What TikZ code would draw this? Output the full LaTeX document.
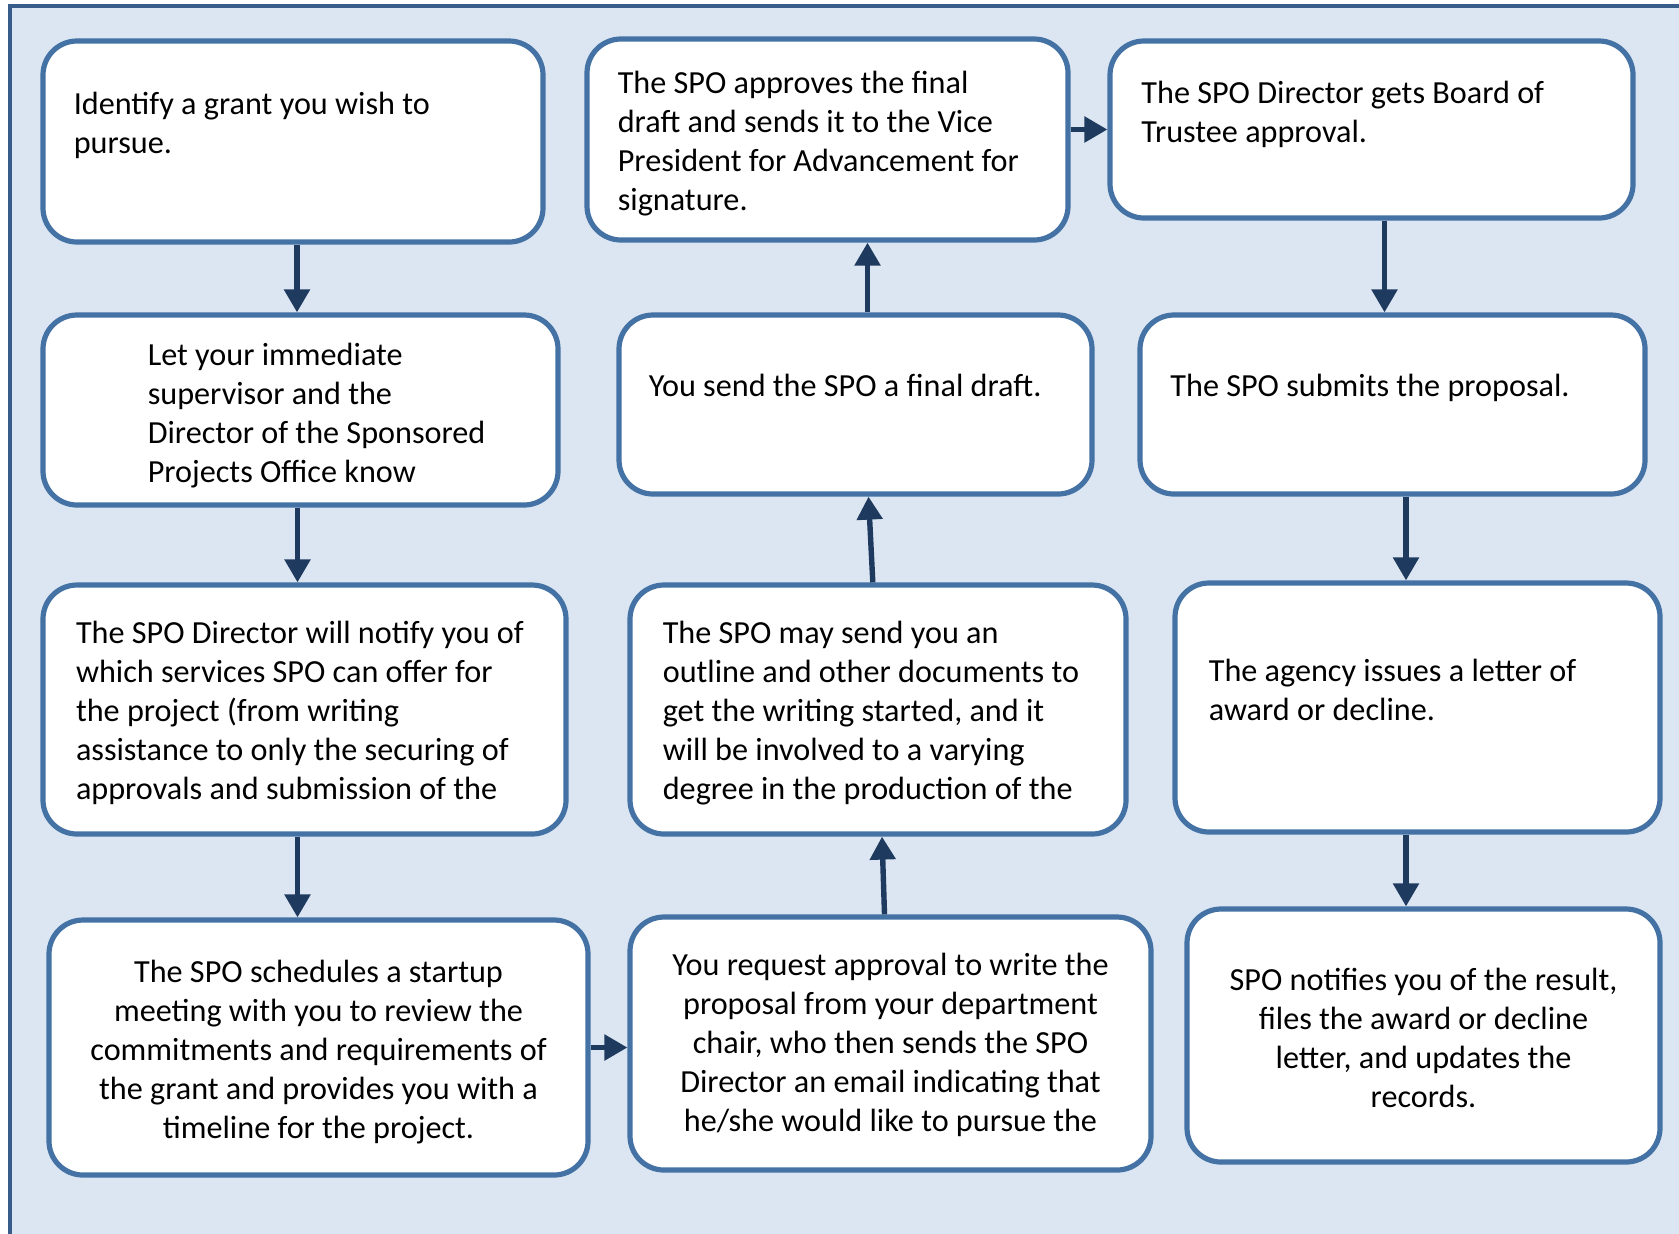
\documentclass[tikz,border=0pt]{standalone}
\usepackage{fontspec}
\setmainfont{Carlito}
\usetikzlibrary{arrows.meta}
\definecolor{panelfill}{HTML}{DCE6F2}
\definecolor{panelline}{HTML}{385D8A}
\definecolor{boxline}{HTML}{4472A4}
\definecolor{arrowcol}{HTML}{1F3A5F}

\begin{document}
\begin{tikzpicture}[x=1pt, y=-1pt,
        stepbox/.style={draw=boxline, line width=2.6pt, fill=white, rounded corners=17pt, inner sep=0pt},
        steptext/.style={inner sep=0pt, align=left, anchor=base west, yshift=-1.6pt,
                         font=\fontsize{16.1}{19.5}\selectfont},
        midtext/.style={steptext, align=center, anchor=base},
        flow/.style={draw=arrowcol, line width=2.7pt, -{Triangle[length=11.5pt, width=12.5pt]}}]
    \clip (0,0) rectangle (839.5,616.5);
    \fill[white] (0,0) rectangle (839.5,616.5);
    \draw[panelline, fill=panelfill, line width=2pt] (5,3) rectangle (860,640);

    \node[stepbox, minimum width=250pt, minimum height=100.5pt] (grant) at (146.5,70.75) {};
    \node[stepbox, minimum width=257.5pt, minimum height=95pt] (notify) at (150.25,205) {};
    \node[stepbox, minimum width=261.5pt, minimum height=124.5pt] (services) at (152.25,354.75) {};
    \node[stepbox, minimum width=269.5pt, minimum height=127.5pt] (startup) at (159.25,523.75) {};
    \node[stepbox, minimum width=240.5pt, minimum height=100.5pt] (approve) at (413.75,69.75) {};
    \node[stepbox, minimum width=236.5pt, minimum height=89.5pt] (draft) at (427.75,202.25) {};
    \node[stepbox, minimum width=248pt, minimum height=124.5pt] (outline) at (439,354.75) {};
    \node[stepbox, minimum width=260.5pt, minimum height=126.5pt] (request) at (445.25,521.75) {};
    \node[stepbox, minimum width=261.5pt, minimum height=88.5pt] (board) at (685.75,64.75) {};
    \node[stepbox, minimum width=252.5pt, minimum height=89.5pt] (submit) at (696.25,202.25) {};
    \node[stepbox, minimum width=242.5pt, minimum height=124.5pt] (letter) at (708.75,353.75) {};
    \node[stepbox, minimum width=236.5pt, minimum height=126.5pt] (result) at (711.75,517.75) {};

    \node[steptext] (tgrant) at ([shift={(16.5pt,-55.75pt)}]grant.north west)
        {Identify a grant you wish to\\pursue.};
    \node[steptext] (tnotify) at ([shift={(53.5pt,-83.6pt)}]notify.north west)
        {Let your immediate\\supervisor and the\\Director of the Sponsored\\Projects Office know};
    \node[steptext] (tservices) at ([shift={(17.6pt,-106.7pt)}]services.north west)
        {The SPO Director will notify you of\\which services SPO can offer for\\the project (from writing\\assistance to only the securing of\\approvals and submission of the};
    \node[midtext] (tstartup) at ([shift={(0pt,-109pt)}]startup.north)
        {The SPO schedules a startup\\meeting with you to review the\\commitments and requirements of\\the grant and provides you with a\\timeline for the project.};
    \node[steptext] (tapprove) at ([shift={(16.5pt,-85.6pt)}]approve.north west)
        {The SPO approves the final\\draft and sends it to the Vice\\President for Advancement for\\signature.};
    \node[steptext] (tdraft) at ([shift={(16pt,-40.6pt)}]draft.north west)
        {You send the SPO a final draft.};
    \node[steptext] (toutline) at ([shift={(17.5pt,-106.7pt)}]outline.north west)
        {The SPO may send you an\\outline and other documents to\\get the writing started, and it\\will be involved to a varying\\degree in the production of the};
    \node[midtext] (trequest) at ([shift={(0pt,-106.7pt)}]request.north)
        {You request approval to write the\\proposal from your department\\chair, who then sends the SPO\\Director an email indicating that\\he/she would like to pursue the};
    \node[steptext] (tboard) at ([shift={(16.8pt,-50.4pt)}]board.north west)
        {The SPO Director gets Board of\\Trustee approval.};
    \node[steptext] (tsubmit) at ([shift={(16.3pt,-40.6pt)}]submit.north west)
        {The SPO submits the proposal.};
    \node[steptext] (tletter) at ([shift={(18pt,-68.5pt)}]letter.north west)
        {The agency issues a letter of\\award or decline.};
    \node[midtext] (tresult) at ([shift={(0pt,-98.7pt)}]result.north)
        {SPO notifies you of the result,\\files the award or decline\\letter, and updates the\\records.};

    \draw[flow] ([xshift=2pt]grant.south) -- ([xshift=2pt]grant.south |- notify.north);
    \draw[flow] ([xshift=-1.5pt]notify.south) -- ([xshift=-1.5pt]notify.south |- services.north);
    \draw[flow] ([xshift=-3.5pt]services.south) -- ([xshift=-3.5pt]services.south |- startup.north);
    \draw[flow] (startup.east) -- (startup.east -| request.west);
    \draw[flow] ([xshift=-3pt]request.north) -- ([xshift=2pt]outline.south);
    \draw[flow] ([xshift=-2.6pt]outline.north) -- ([xshift=6.5pt]draft.south);
    \draw[flow] ([xshift=6pt]draft.north) -- ([xshift=6pt]draft.north |- approve.south);
    \draw[flow] (approve.east |- board.west) -- (board.west);
    \draw[flow] ([xshift=6.5pt]board.south) -- ([xshift=6.5pt]board.south |- submit.north);
    \draw[flow] ([xshift=6.75pt]submit.south) -- ([xshift=6.75pt]submit.south |- letter.north);
    \draw[flow] ([xshift=-5.75pt]letter.south) -- ([xshift=-5.75pt]letter.south |- result.north);
\end{tikzpicture}
\end{document}
